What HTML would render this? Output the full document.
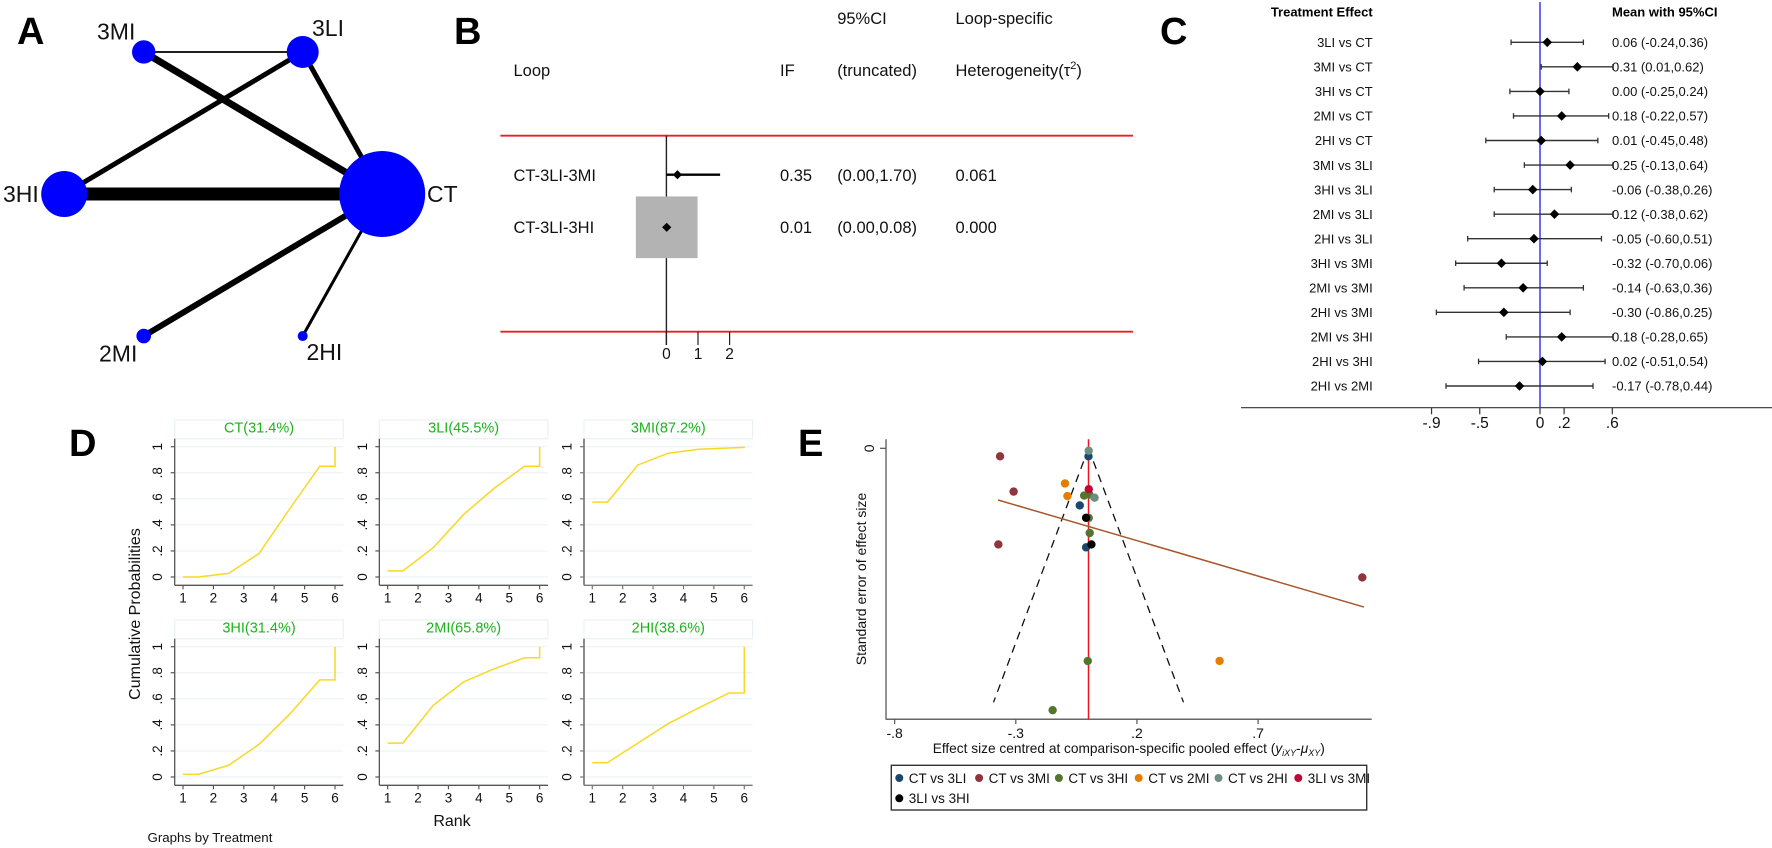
<!DOCTYPE html>
<html lang="en">
<head>
<meta charset="utf-8">
<title>Network meta-analysis figure panels A to E</title>
<style>
  html, body { margin: 0; padding: 0; background: #fff; }
  svg { display: block; font-family: "Liberation Sans", Arial, sans-serif; filter: blur(0.35px); }
  text { fill: #111; }
</style>
</head>
<body>
<svg id="fig" xmlns="http://www.w3.org/2000/svg" width="1772" height="848" viewBox="0 0 1772 848">
  <rect x="0" y="0" width="1772" height="848" fill="#fff"/>
  <g font-weight="bold" font-size="38">
    <text x="17" y="44" style="fill:#000">A</text>
    <text x="454" y="44" style="fill:#000">B</text>
    <text x="1160" y="44" style="fill:#000">C</text>
    <text x="69" y="456" style="fill:#000">D</text>
    <text x="798" y="456" style="fill:#000">E</text>
  </g>
  <g id="panelA"></g>
  <g font-size="23">
    <text x="97" y="39.5">3MI</text>
    <text x="312" y="36">3LI</text>
    <text x="3" y="202">3HI</text>
    <text x="427" y="202">CT</text>
    <text x="99" y="361.5">2MI</text>
    <text x="306.5" y="360">2HI</text>
  </g>
  <g id="panelB" font-size="16.5">
    <text x="513.5" y="76">Loop</text>
    <text x="780" y="76">IF</text>
    <text x="837.2" y="24">95%CI</text>
    <text x="837.2" y="76">(truncated)</text>
    <text x="955.5" y="24">Loop-specific</text>
    <text x="955.5" y="76">Heterogeneity(τ<tspan dy="-7" font-size="11">2</tspan><tspan dy="7">)</tspan></text>
    <line x1="500.4" y1="135.7" x2="1133" y2="135.7" stroke="#ee1c25" stroke-width="1.8"/>
    <line x1="500.4" y1="331.7" x2="1133" y2="331.7" stroke="#ee1c25" stroke-width="1.8"/>
  </g>
  <g id="panelC" font-size="13">
    <text x="1372.7" y="16.5" text-anchor="end" font-weight="bold" style="fill:#000">Treatment Effect</text>
    <text x="1612" y="16.5" font-weight="bold" style="fill:#000">Mean with 95%CI</text>
  </g>
  <g id="panelD">
    <text transform="translate(140 614) rotate(-90)" text-anchor="middle" font-size="16">Cumulative Probabilities</text>
    <text x="452" y="826" text-anchor="middle" font-size="16">Rank</text>
    <text x="147.5" y="842" font-size="13.3">Graphs by Treatment</text>
  </g>
  <g id="panelE">
    <text transform="translate(866 579) rotate(-90)" text-anchor="middle" font-size="14">Standard error of effect size</text>
    <text x="932.7" y="753" font-size="13.7">Effect size centred at comparison-specific pooled effect (<tspan font-style="italic">y</tspan><tspan font-style="italic" font-size="9" dy="3">iXY</tspan><tspan dy="-3">-</tspan><tspan font-style="italic">μ</tspan><tspan font-style="italic" font-size="9" dy="3">XY</tspan><tspan dy="-3">)</tspan></text>
    <rect x="891.3" y="765.3" width="475.4" height="44.7" fill="#fff" stroke="#333" stroke-width="1.4"/>
  </g>
</svg>
<script>
// ---------- Panel A data ----------
const networkNodes = ['CT', '3LI', '3MI', '3HI', '2MI', '2HI'];
const networkNodeWeight = [43, 16, 11.7, 23, 7.3, 5];
const networkEdgeFrom = ['3MI', '3MI', '3LI', '3LI', '3HI', '2MI', '2HI'];
const networkEdgeTo = ['3LI', 'CT', '3HI', 'CT', 'CT', 'CT', 'CT'];
const networkEdgeWeight = [1.8, 7, 5, 5, 13, 6, 3];

// ---------- Panel B data ----------
const loopNames = ['CT-3LI-3MI', 'CT-3LI-3HI'];
const loopIF = [0.35, 0.01];
const loopLow = [0.00, 0.00];
const loopHigh = [1.70, 0.08];
const loopTau = ['0.061', '0.000'];
const loopBoxWeight = [0, 1];
const loopTicks = [0, 1, 2];

// ---------- Panel C data ----------
const forestLabels = ['3LI vs CT', '3MI vs CT', '3HI vs CT', '2MI vs CT', '2HI vs CT', '3MI vs 3LI', '3HI vs 3LI', '2MI vs 3LI', '2HI vs 3LI', '3HI vs 3MI', '2MI vs 3MI', '2HI vs 3MI', '2MI vs 3HI', '2HI vs 3HI', '2HI vs 2MI'];
const forestMean = [0.06, 0.31, 0.00, 0.18, 0.01, 0.25, -0.06, 0.12, -0.05, -0.32, -0.14, -0.30, 0.18, 0.02, -0.17];
const forestLow = [-0.24, 0.01, -0.25, -0.22, -0.45, -0.13, -0.38, -0.38, -0.60, -0.70, -0.63, -0.86, -0.28, -0.51, -0.78];
const forestHigh = [0.36, 0.62, 0.24, 0.57, 0.48, 0.64, 0.26, 0.62, 0.51, 0.06, 0.36, 0.25, 0.65, 0.54, 0.44];
const forestTicks = [-0.9, -0.5, 0, 0.2, 0.6];
const forestTickLabels = ['-.9', '-.5', '0', '.2', '.6'];
const forestClipMax = 0.605;

// ---------- Panel D data ----------
const rankTitles = ['CT(31.4%)', '3LI(45.5%)', '3MI(87.2%)', '3HI(31.4%)', '2MI(65.8%)', '2HI(38.6%)'];
const rankPositions = [1, 1.5, 2.5, 3.5, 4.5, 5.5, 6, 6];
const rankCT = [0, 0, 0.028, 0.18, 0.52, 0.85, 0.85, 1];
const rank3LI = [0.047, 0.047, 0.225, 0.48, 0.68, 0.85, 0.85, 1];
const rank3MI = [0.575, 0.575, 0.86, 0.95, 0.98, 0.99, 0.995, 1];
const rank3HI = [0.02, 0.02, 0.09, 0.25, 0.48, 0.745, 0.745, 1];
const rank2MI = [0.26, 0.26, 0.55, 0.73, 0.83, 0.915, 0.915, 1];
const rank2HI = [0.11, 0.11, 0.26, 0.41, 0.53, 0.645, 0.645, 1];
const rankSeries = [rankCT, rank3LI, rank3MI, rank3HI, rank2MI, rank2HI];
const rankXTicks = [1, 2, 3, 4, 5, 6];
const rankYTicks = [0, 0.2, 0.4, 0.6, 0.8, 1];
const rankYTickLabels = ['0', '.2', '.4', '.6', '.8', '1'];

// ---------- Panel E data ----------
const funnelComparisons = ['CT vs 3LI', 'CT vs 3MI', 'CT vs 3HI', 'CT vs 2MI', 'CT vs 2HI', '3LI vs 3MI', '3LI vs 3HI'];
const funnelEffects = [
  [0.00, -0.036, -0.010],
  [-0.365, -0.309, -0.372, 1.130],
  [-0.018, 0.003, 0.001, 0.005, -0.003, -0.148],
  [-0.097, -0.087, 0.541],
  [0.001, 0.025],
  [0.001],
  [-0.010, 0.012]
];
const funnelSE = [
  [0.0063, 0.045, 0.078],
  [0.0063, 0.0341, 0.0757, 0.1017],
  [0.0372, 0.0364, 0.0548, 0.0667, 0.1675, 0.2062],
  [0.0277, 0.0376, 0.1674],
  [0.0019, 0.0389],
  [0.0322],
  [0.0547, 0.0757]
];
const funnelColors = ['#1a476f', '#90353b', '#55752f', '#e37e00', '#6e8e84', '#c10534', '#000000'];
const funnelXTicks = [-0.8, -0.3, 0.2, 0.7];
const funnelXTickLabels = ['-.8', '-.3', '.2', '.7'];
const funnelFitEffect = [-0.3735, 1.137];
const funnelFitSE = [0.0407, 0.125];
const funnelMaxSE = 0.2;

// ---------- helpers ----------
const NS = 'http://www.w3.org/2000/svg';
function el(tag, parent, geometry) {
  const e = document.createElementNS(NS, tag);
  for (const k in geometry) e.setAttribute(k, geometry[k]);
  parent.appendChild(e);
  return e;
}
function txt(parent, str, geometry) {
  const e = el('text', parent, geometry);
  e.textContent = str;
  return e;
}
function diamond(cx, cy, r) {
  return `${cx},${cy - r} ${cx + r},${cy} ${cx},${cy + r} ${cx - r},${cy}`;
}

// ---------- Panel A ----------
const gA = document.getElementById('panelA');
const hexX = i => 223.2 + 159 * Math.cos(-i * Math.PI / 3);
const hexY = i => 194 + 164 * Math.sin(-i * Math.PI / 3);
networkEdgeFrom.forEach((from, i) => {
  const a = networkNodes.indexOf(from);
  const b = networkNodes.indexOf(networkEdgeTo[i]);
  const edge = el('line', gA, { x1: hexX(a), y1: hexY(a), x2: hexX(b), y2: hexY(b), stroke: '#000', 'stroke-width': networkEdgeWeight[i] });
  
  
});
networkNodes.forEach((n, i) => {
  const node = el('circle', gA, { cx: hexX(i), cy: hexY(i), r: networkNodeWeight[i], fill: '#0000ff' });
  
  
});

// ---------- Panel B ----------
const gB = document.getElementById('panelB');
const bx = v => 666.4 + 31.6 * v;
const bRowText = [181, 233];
const bRowMark = [174.7, 227.3];
const bAxis = el('line', gB, { x1: bx(0), y1: 135.7, x2: bx(0), y2: 345, stroke: '#222', 'stroke-width': 1.4 });


loopTicks.forEach(t => {
  const tick = el('line', gB, { x1: bx(t), y1: 331.7, x2: bx(t), y2: 345, stroke: '#222', 'stroke-width': 1.2 });
  
  
  const lab = txt(gB, String(t), { x: bx(t), y: 359, 'text-anchor': 'middle', 'font-size': 15.5 });
  
  
});
loopNames.forEach((name, i) => {
  const boxW = 61.7 * loopBoxWeight[i];
  if (boxW > 0) {
    const box = el('rect', gB, { x: bx(loopIF[i]) - boxW / 2, y: bRowMark[i] - boxW / 2, width: boxW, height: boxW, fill: '#b3b3b3' });
    
    
  }
  const ci = el('line', gB, { x1: bx(loopLow[i]), y1: bRowMark[i], x2: bx(loopHigh[i]), y2: bRowMark[i], stroke: '#000', 'stroke-width': 2.4 });
  
  
  const mark = el('polygon', gB, { points: diamond(bx(loopIF[i]), bRowMark[i], 4.6), fill: '#000' });
  
  
  const t1 = txt(gB, name, { x: 513.5, y: bRowText[i] });
  
  
  const t2 = txt(gB, loopIF[i].toFixed(2), { x: 780, y: bRowText[i] });
  
  
  const t3 = txt(gB, `(${loopLow[i].toFixed(2)},${loopHigh[i].toFixed(2)})`, { x: 837.2, y: bRowText[i] });
  
  
  const t4 = txt(gB, loopTau[i], { x: 955.5, y: bRowText[i] });
  
  
});

// ---------- Panel C ----------
const gC = document.getElementById('panelC');
const cx = v => 1540 + 120.5 * v;
const cy = i => 42.3 + 24.55 * i;
const cAxis = el('line', gC, { x1: 1241, y1: 407.7, x2: 1772, y2: 407.7, stroke: '#333', 'stroke-width': 1.2 });


const nullLine = el('line', gC, { x1: cx(0), y1: 2, x2: cx(0), y2: 407.7, stroke: '#3a3af0', 'stroke-width': 1.5 });


forestTicks.forEach((t, i) => {
  const tick = el('line', gC, { x1: cx(t), y1: 407.7, x2: cx(t), y2: 414.3, stroke: '#333', 'stroke-width': 1.2 });
  
  
  const lab = txt(gC, forestTickLabels[i], { x: cx(t), y: 428, 'text-anchor': 'middle', 'font-size': 15.5 });
  
  
});
forestLabels.forEach((label, i) => {
  const y = cy(i);
  const hi = Math.min(forestHigh[i], forestClipMax);
  const lo = forestLow[i];
  const ciLine = el('line', gC, { x1: cx(lo), y1: y, x2: cx(hi), y2: y, stroke: '#333', 'stroke-width': 1.4 });
  
  
  const capL = el('line', gC, { x1: cx(lo), y1: y - 2.8, x2: cx(lo), y2: y + 2.8, stroke: '#333', 'stroke-width': 1.3 });
  
  
  const capH = el('line', gC, { x1: cx(hi), y1: y - 2.8, x2: cx(hi), y2: y + 2.8, stroke: '#333', 'stroke-width': 1.3 });
  
  
  const mark = el('polygon', gC, { points: diamond(cx(forestMean[i]), y, 4.8), fill: '#000' });
  
  
  const rowLabel = txt(gC, label, { x: 1372.7, y: y + 4.7, 'text-anchor': 'end' });
  
  
  const rowValue = txt(gC, `${forestMean[i].toFixed(2)} (${lo.toFixed(2)},${forestHigh[i].toFixed(2)})`, { x: 1612, y: y + 4.7 });
  
  
});

// ---------- Panel D ----------
const gD = document.getElementById('panelD');
rankTitles.forEach((title, p) => {
  const col = p % 3;
  const row = Math.floor(p / 3);
  const ox = 204.65 * col;
  const oy = 200 * row;
  const left = 174.7 + ox, right = 343.3 + ox, top = 438.7 + oy, bottom = 585.3 + oy;
  const px = v => 183 + ox + (v - 1) * 30.4;
  const py = v => 577 + oy - v * 130.3;
  const axisColor = col === 2 ? '#777' : '#555';
  const axisWidth = col === 2 ? 1.7 : 1.3;

  const box = el('rect', gD, { x: left, y: 420 + oy, width: right - left, height: 18.7, fill: '#fff', stroke: '#eaf2f3', 'stroke-width': 1.2 });
  
  
  const ttl = txt(gD, title, { x: (left + right) / 2, y: 432.5 + oy, 'text-anchor': 'middle', 'font-size': 14.5, style: 'fill:#1cb41c' });
  
  

  rankYTicks.forEach((t, i) => {
    const grid = el('line', gD, { x1: left, y1: py(t), x2: right, y2: py(t), stroke: '#eef3f6', 'stroke-width': 1.2 });
    
    
    const tick = el('line', gD, { x1: left - 4, y1: py(t), x2: left, y2: py(t), stroke: axisColor, 'stroke-width': 1.2 });
    
    
    const lab = txt(gD, rankYTickLabels[i], { transform: `translate(${left - 12.5} ${py(t)}) rotate(-90)`, 'text-anchor': 'middle', 'font-size': 13.5 });
    
    
  });
  rankXTicks.forEach(t => {
    const tick = el('line', gD, { x1: px(t), y1: bottom, x2: px(t), y2: bottom + 4, stroke: axisColor, 'stroke-width': 1.2 });
    
    
    const lab = txt(gD, String(t), { x: px(t), y: 602.7 + oy, 'text-anchor': 'middle', 'font-size': 13.5 });
    
    
  });
  const yAxis = el('line', gD, { x1: left, y1: top, x2: left, y2: bottom, stroke: axisColor, 'stroke-width': axisWidth });
  
  
  const xAxis = el('line', gD, { x1: left, y1: bottom, x2: right, y2: bottom, stroke: axisColor, 'stroke-width': 1.3 });
  
  
  const pts = rankSeries[p].map((v, i) => `${px(rankPositions[i])},${py(v)}`).join(' ');
  const curve = el('polyline', gD, { points: pts, fill: 'none', stroke: '#f8d825', 'stroke-width': 1.5 });
  
  
});

// ---------- Panel E ----------
const gE = document.getElementById('panelE');
const ex = v => 1088.5 + 242.3 * v;
const ey = v => 448.3 + 1270 * v;
const eYAxis = el('line', gE, { x1: 886, y1: 439.3, x2: 886, y2: 719.3, stroke: '#777', 'stroke-width': 1.6 });


const eXAxis = el('line', gE, { x1: 885.7, y1: 719.3, x2: 1371.7, y2: 719.3, stroke: '#666', 'stroke-width': 1.5 });


const yTick0 = el('line', gE, { x1: 880, y1: ey(0), x2: 886, y2: ey(0), stroke: '#555', 'stroke-width': 1.2 });


const yLab0 = txt(gE, '0', { transform: `translate(874 ${ey(0)}) rotate(-90)`, 'text-anchor': 'middle', 'font-size': 14 });


funnelXTicks.forEach((t, i) => {
  const tick = el('line', gE, { x1: ex(t), y1: 719.3, x2: ex(t), y2: 724, stroke: '#555', 'stroke-width': 1.2 });
  
  
  const lab = txt(gE, funnelXTickLabels[i], { x: ex(t), y: 738, 'text-anchor': 'middle', 'font-size': 14 });
  
  
});
[-1, 1].forEach(sign => {
  const side = el('line', gE, { x1: ex(0), y1: ey(0), x2: ex(sign * 1.96 * funnelMaxSE), y2: ey(funnelMaxSE), stroke: '#111', 'stroke-width': 1.3, 'stroke-dasharray': '8 6' });
  
  
});
const redLine = el('line', gE, { x1: ex(0), y1: 439.3, x2: ex(0), y2: 719.3, stroke: '#f0141e', 'stroke-width': 1.5 });


const fit = el('line', gE, { x1: ex(funnelFitEffect[0]), y1: ey(funnelFitSE[0]), x2: ex(funnelFitEffect[1]), y2: ey(funnelFitSE[1]), stroke: '#a8562a', 'stroke-width': 1.5 });


funnelEffects.forEach((series, s) => {
  series.forEach((effect, i) => {
    const dot = el('circle', gE, { cx: ex(effect), cy: ey(funnelSE[s][i]), r: 4.2, fill: funnelColors[s] });
    
    
  });
});
funnelComparisons.forEach((name, i) => {
  const col = i % 6;
  const row = Math.floor(i / 6);
  const dotX = 899.3 + col * 79.8;
  const dot = el('circle', gE, { cx: dotX, cy: 778 + row * 20.3, r: 4, fill: funnelColors[i] });
  
  
  const lab = txt(gE, name, { x: dotX + 9.5, y: 782.8 + row * 20.3, 'font-size': 13.5 });
  
  
});
</script>
</body>
</html>
